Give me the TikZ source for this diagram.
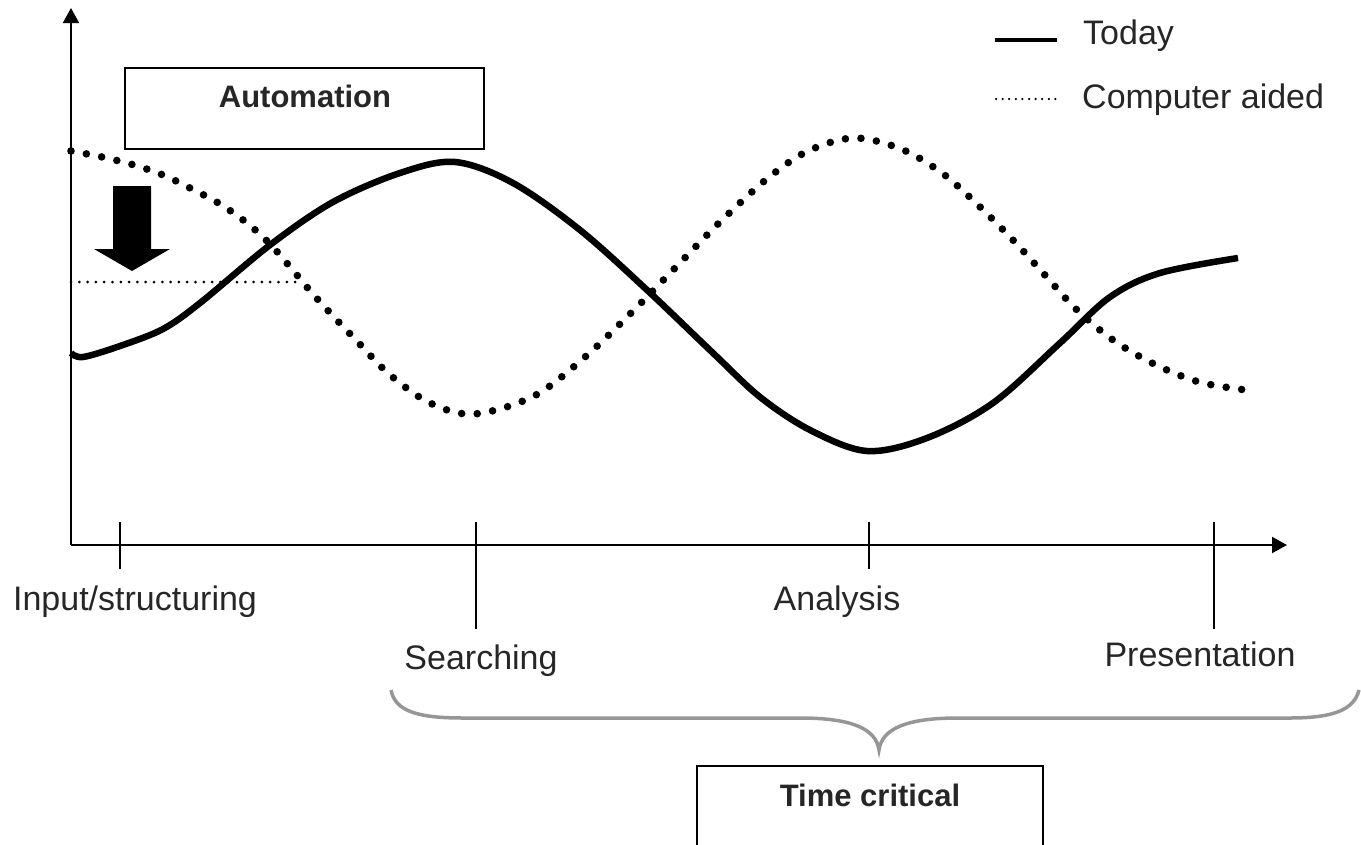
\documentclass[tikz,border=0pt]{standalone}
\usepackage{fontspec}
\setmainfont{Liberation Sans}
\usetikzlibrary{arrows.meta}
\definecolor{txt}{RGB}{38,38,38}
\definecolor{bracegray}{RGB}{150,150,150}
\begin{document}
\begin{tikzpicture}[x=1pt,y=-1pt,
  lbl/.style={font=\fontsize{34}{40}\selectfont, text=txt, inner sep=0pt},
  boldlbl/.style={font=\fontsize{31}{37}\selectfont\bfseries, text=txt, inner sep=0pt, anchor=base},
  axisline/.style={line width=2pt, -{Triangle[length=15pt,width=16pt]}},
  tickline/.style={line width=2pt},
  today/.style={line width=6.5pt, line join=round},
  aided/.style={line width=7.6pt, line cap=round, dash pattern=on 0pt off 15.6pt},
  finedots/.style={line width=3pt, line cap=round, dash pattern=on 0pt off 8.3pt},
  legdots/.style={line width=2.5pt, line cap=round, dash pattern=on 0pt off 6.6pt},
  framebox/.style={draw, line width=1.8pt},
  bracestyle/.style={draw=bracegray, line width=3.5pt}
]
\useasboundingbox (0,0) rectangle (1361,844);
\clip (0,0) rectangle (1361,844);

% axes
\coordinate (O) at (71,545);
\coordinate (ytop) at (71,8);
\coordinate (xend) at (1287,545);
\draw[axisline] (O) -- (ytop);
\draw[axisline] (O) -- (xend);

% ticks
\coordinate (t1a) at (120,522); \coordinate (t1b) at (120,569);
\coordinate (t2a) at (476,522); \coordinate (t2b) at (476,629);
\coordinate (t3a) at (869,522); \coordinate (t3b) at (869,569);
\coordinate (t4a) at (1214,522); \coordinate (t4b) at (1214,629);
\draw[tickline] (t1a) -- (t1b);
\draw[tickline] (t2a) -- (t2b);
\draw[tickline] (t3a) -- (t3b);
\draw[tickline] (t4a) -- (t4b);

% tick labels
\node[lbl, anchor=base] (input) at (135,610) {Input/structuring};
\node[lbl, anchor=base] (search) at (481,669) {Searching};
\node[lbl, anchor=base] (analysis) at (837,610) {Analysis};
\node[lbl, anchor=base] (present) at (1200,666) {Presentation};

% Automation box
\draw[framebox] (125,68) rectangle (484,149);
\node[boldlbl] (auto) at (305,107) {Automation};

% down arrow
\fill (113,186) -- (151,186) -- (151,249) -- (170,249) -- (132,271) -- (94,249) -- (113,249) -- cycle;

% fine dotted horizontal line
\coordinate (h1) at (71,282);
\coordinate (h2) at (302,282);
\draw[finedots] (h1) -- (h2);

% Computer aided curve (dotted)
\draw[aided] plot[smooth, tension=0.55] coordinates {
  (71,151) (102,157) (134,165) (163,175) (192,189) (220,204) (247,223)
  (270,244) (291,268) (312,293) (333,316) (355,339) (389,374) (430,403)
  (474,414) (534,396) (585,357) (631,313) (676,267) (721,221) (768,178)
  (808,151) (854,138) (901,149) (942,173) (978,205) (1012,239) (1044,274)
  (1076,309) (1113,340) (1154,364) (1199,382) (1246,390)};

% Today curve (solid)
\draw[today] plot[smooth, tension=0.55] coordinates {
  (71,353) (83,357) (120,346) (163,329) (200,303) (270,245) (333,202)
  (400,173) (455,162) (513,183) (580,230) (647,290) (713,353) (760,397)
  (810,430) (867,451) (927,438) (993,403) (1060,343) (1110,297) (1160,273) (1238,258)};

% legend
\coordinate (la) at (995,40); \coordinate (lb) at (1057,40);
\coordinate (lc) at (996,99); \coordinate (ld) at (1057,99);
\draw[line width=4pt] (la) -- (lb);
\draw[legdots] (lc) -- (ld);
\node[lbl, anchor=base west] (today) at (1083,44) {Today};
\node[lbl, anchor=base west] (aided) at (1082,108) {Computer aided};

% brace
\draw[bracestyle] (391,690) .. controls (395,712) and (420,718) .. (463,718)
  -- (800,718) .. controls (850,718) and (876,728) .. (879,750)
  .. controls (882,728) and (908,718) .. (958,718)
  -- (1290,718) .. controls (1333,718) and (1354,710) .. (1359,690);

% Time critical box
\draw[framebox] (697,766) rectangle (1043,880);
\node[boldlbl] (tc) at (870,806) {Time critical};
\end{tikzpicture}
\end{document}
